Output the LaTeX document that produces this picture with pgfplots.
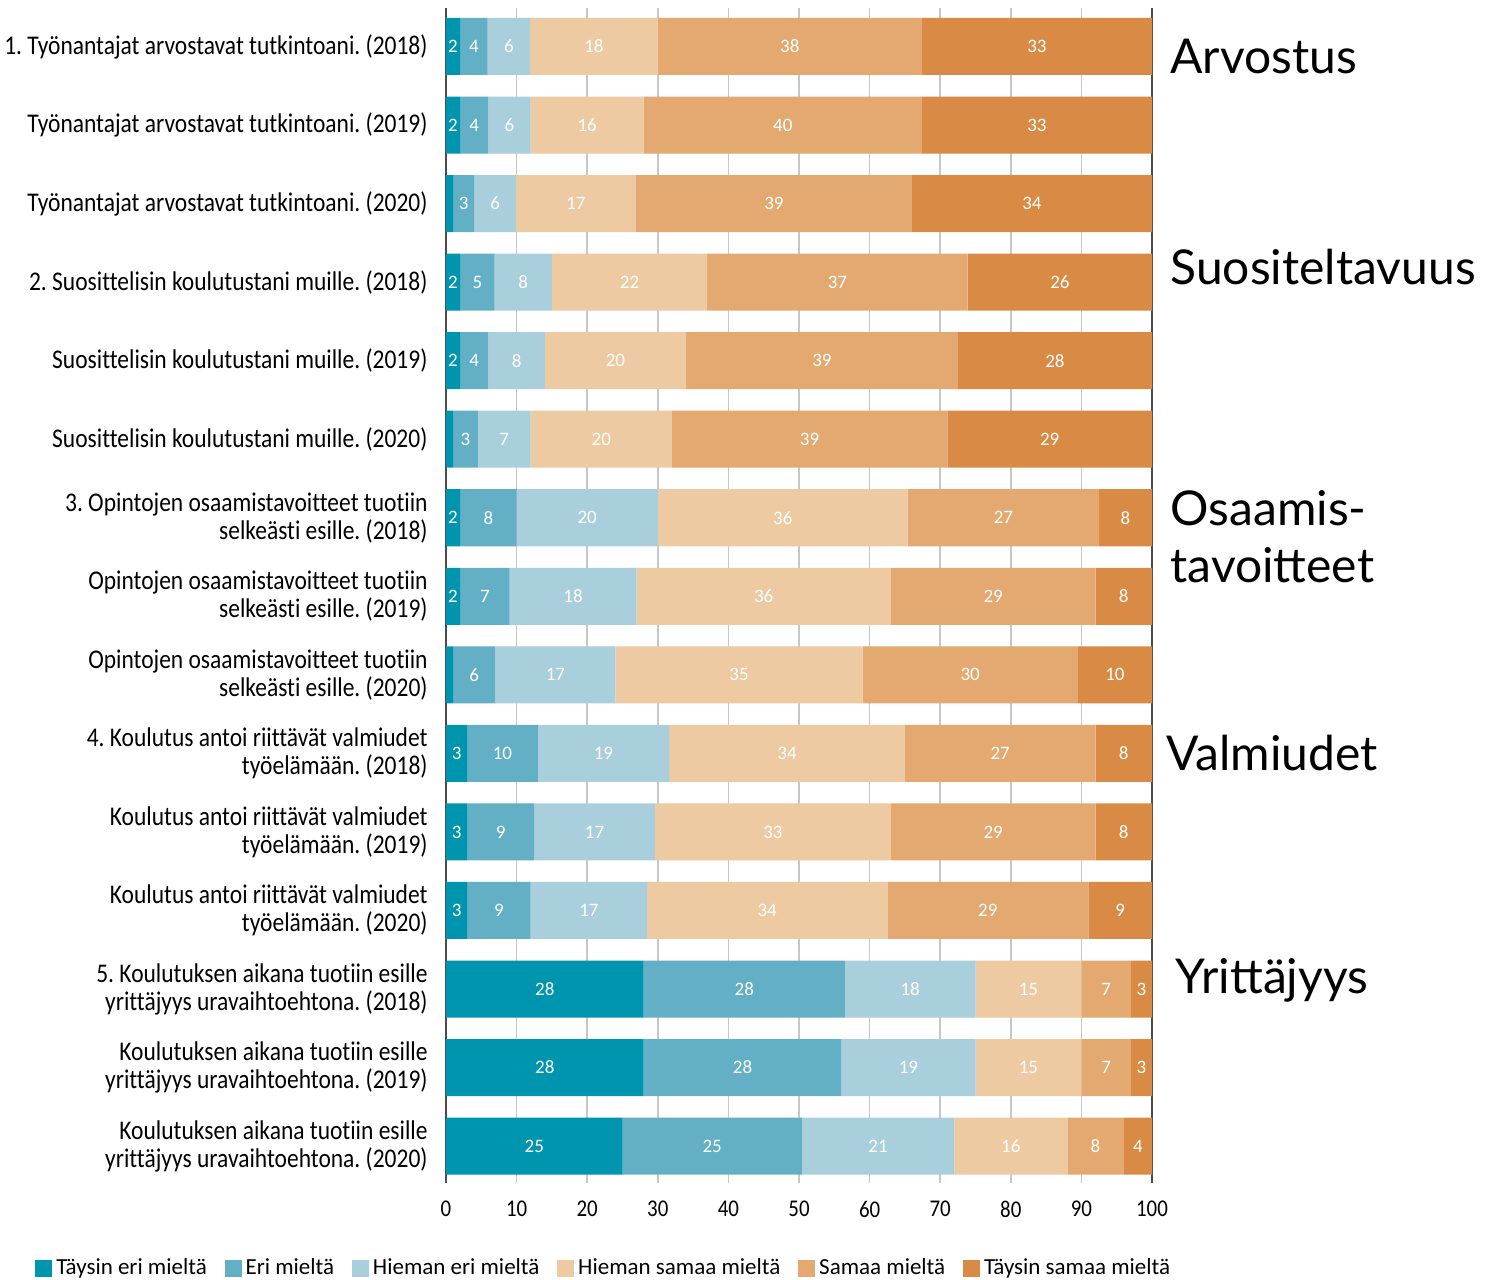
\documentclass[border=0pt]{standalone}
\usepackage{pgfplots}
\usepackage{pgfplotstable}
\pgfplotsset{compat=1.18}
\usepackage{fontspec}
\setmainfont[Ligatures=NoCommon]{Carlito}
\newfontfamily\condfont[FakeStretch=0.87, Ligatures=NoCommon]{Carlito}
\newfontfamily\latofont{Lato}
\frenchspacing
\definecolor{c1}{HTML}{0095AE}
\definecolor{c2}{HTML}{63B0C6}
\definecolor{c3}{HTML}{A9CFDC}
\definecolor{c4}{HTML}{EECAA3}
\definecolor{c5}{HTML}{E4A970}
\definecolor{c6}{HTML}{D98A44}
\pgfplotstableread{
y a b c d e f la lb lc ld le lf
0 2 3.9 6 18.1 37.4 32.6 2 4 6 18 38 33
1 2 4 6 16 39.4 32.6 2 4 6 16 40 33
2 1 3 5.9 17 39.1 34 {} 3 6 17 39 34
3 2 4.9 8.1 22 36.9 26.1 2 5 8 22 37 26
4 2 4 8 20 38.5 27.5 2 4 8 20 39 28
5 1 3.5 7.5 20 39 29 {} 3 7 20 39 29
6 2 8 20 35.4 27.1 7.5 2 8 20 36 27 8
7 2 7 18 36 29 8 2 7 18 36 29 8
8 1 6 17 35 30.5 10.5 {} 6 17 35 30 10
9 3 10 18.6 33.4 27 8 3 10 19 34 27 8
10 3 9.5 17.1 33.4 29 8 3 9 17 33 29 8
11 3 9 16.5 34 28.5 9 3 9 17 34 29 9
12 28 28.5 18.5 15 7 3 28 28 18 15 7 3
13 28 28 19 15 7 3 28 28 19 15 7 3
14 25 25.4 21.6 16 8 4 25 25 21 16 8 4
}\datatable
\tikzset{biglbl/.style={anchor=west, inner sep=0pt, align=left,
    font=\latofont\fontsize{24}{28.5}\selectfont}}
\pgfplotsset{
  common/.style={
    anchor=south west, at={(0,0)},
    scale only axis, width=353pt, height=587.5pt,
    xmin=0, xmax=100, ymin=-0.49, ymax=14.47, y dir=reverse,
  },
  lbl/.style={draw=none, mark=none, forget plot, nodes near coords,
    point meta=explicit symbolic,
    every node near coord/.append style={anchor=center, text=white,
      font=\fontsize{9.5}{10}\selectfont, inner sep=0pt}},
}
\begin{document}
\begin{tikzpicture}
\begin{axis}[common,
  xbar stacked, bar width=28.5pt, clip=false,
  separate axis lines,
  x axis line style={draw=none},
  y axis line style={draw=black!70, line width=0.9pt},
  xmajorgrids, grid style={black!22, line width=0.8pt},
  xtick={0,10,...,100},
  xtick style={draw=none}, ytick style={draw=none},
  ytick={0,...,14},
  /pgf/number format/assume math mode=true,
  xticklabel style={font=\condfont\fontsize{12}{13}\selectfont, yshift=-5.5pt},
  yticklabel style={align=right, font=\condfont\fontsize{13.5}{14}\selectfont, inner xsep=0pt, xshift=-9pt},
  yticklabels={
    {1. Työnantajat arvostavat tutkintoani. (2018)},
    {Työnantajat arvostavat tutkintoani. (2019)},
    {Työnantajat arvostavat tutkintoani. (2020)},
    {2. Suosittelisin koulutustani muille. (2018)},
    {Suosittelisin koulutustani muille. (2019)},
    {Suosittelisin koulutustani muille. (2020)},
    {3. Opintojen osaamistavoitteet tuotiin\\selkeästi esille. (2018)},
    {Opintojen osaamistavoitteet tuotiin\\selkeästi esille. (2019)},
    {Opintojen osaamistavoitteet tuotiin\\selkeästi esille. (2020)},
    {4. Koulutus antoi riittävät valmiudet\\työelämään. (2018)},
    {Koulutus antoi riittävät valmiudet\\työelämään. (2019)},
    {Koulutus antoi riittävät valmiudet\\työelämään. (2020)},
    {5. Koulutuksen aikana tuotiin esille\\yrittäjyys uravaihtoehtona. (2018)},
    {Koulutuksen aikana tuotiin esille\\yrittäjyys uravaihtoehtona. (2019)},
    {Koulutuksen aikana tuotiin esille\\yrittäjyys uravaihtoehtona. (2020)}},
  legend columns=6,
  legend style={draw=none, at={(0.225,-0.0725)}, anchor=center,
    font=\fontsize{11.5}{12}\selectfont,
    /tikz/every even column/.append style={column sep=7pt},
    inner sep=0pt},
  legend image code/.code={\fill[#1] (0pt,-4.2pt) rectangle (8.4pt,4.2pt);},
]
\addplot[fill=c1, draw=none] table[x=a, y=y] {\datatable};
\addplot[fill=c2, draw=none] table[x=b, y=y] {\datatable};
\addplot[fill=c3, draw=none] table[x=c, y=y] {\datatable};
\addplot[fill=c4, draw=none] table[x=d, y=y] {\datatable};
\addplot[fill=c5, draw=none] table[x=e, y=y] {\datatable};
\addplot[fill=c6, draw=none] table[x=f, y=y] {\datatable};
\legend{Täysin eri mieltä, Eri mieltä, Hieman eri mieltä, Hieman samaa mieltä, Samaa mieltä, Täysin samaa mieltä}
\node[biglbl, xshift=9pt] at (axis cs:100,0.13) {Arvostus};
\node[biglbl, xshift=9pt] at (axis cs:100,2.81) {Suositeltavuus};
\node[biglbl, xshift=9pt] at (axis cs:100,6.24) {Osaamis-\\tavoitteet};
\node[biglbl, xshift=7pt] at (axis cs:100,9.0) {Valmiudet};
\node[biglbl, xshift=11.5pt] at (axis cs:100,11.89) {Yrittäjyys};
\end{axis}
\begin{axis}[common, hide axis, clip=false]
\addplot[lbl] table[x expr=\thisrow{a}/2, y=y, meta=la] {\datatable};
\addplot[lbl] table[x expr=\thisrow{a}+\thisrow{b}/2, y=y, meta=lb] {\datatable};
\addplot[lbl] table[x expr=\thisrow{a}+\thisrow{b}+\thisrow{c}/2, y=y, meta=lc] {\datatable};
\addplot[lbl] table[x expr=\thisrow{a}+\thisrow{b}+\thisrow{c}+\thisrow{d}/2, y=y, meta=ld] {\datatable};
\addplot[lbl] table[x expr=\thisrow{a}+\thisrow{b}+\thisrow{c}+\thisrow{d}+\thisrow{e}/2, y=y, meta=le] {\datatable};
\addplot[lbl] table[x expr=\thisrow{a}+\thisrow{b}+\thisrow{c}+\thisrow{d}+\thisrow{e}+\thisrow{f}/2, y=y, meta=lf] {\datatable};
\end{axis}
\pgfresetboundingbox
\path[use as bounding box] (-223pt,-48pt) rectangle (522.5pt,591.5pt);
\end{tikzpicture}
\end{document}
